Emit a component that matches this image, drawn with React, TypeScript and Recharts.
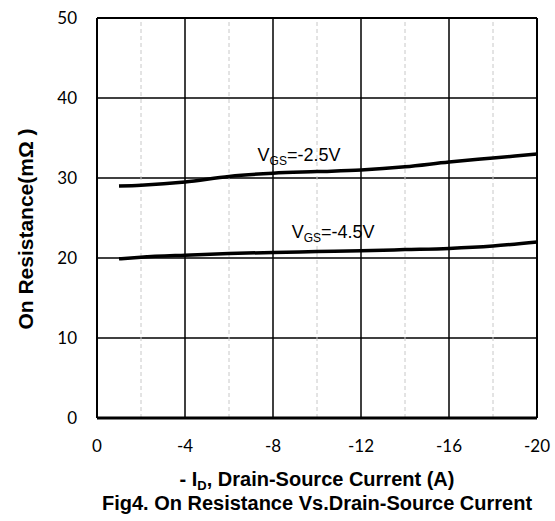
import {
  LineChart,
  Line,
  XAxis,
  YAxis,
  CartesianGrid,
  ReferenceLine,
  ReferenceDot,
} from 'recharts';

// -ID (A) and RDS(on) (mΩ)
const currentA = [-1, -2, -4, -6, -8, -10, -12, -14, -16, -18, -20];
const rdsVgs25 = [29.0, 29.1, 29.5, 30.2, 30.6, 30.8, 31.0, 31.4, 32.0, 32.5, 33.0];
const rdsVgs45 = [19.9, 20.1, 20.35, 20.55, 20.7, 20.8, 20.9, 21.05, 21.2, 21.5, 22.0];

const xTicks = [0, -4, -8, -12, -16, -20];
const xMinorTicks = [-2, -6, -10, -14, -18];
const yTicks = [0, 10, 20, 30, 40, 50];

const data25 = currentA.map((x, i) => ({ x, r: rdsVgs25[i] }));
const data45 = currentA.map((x, i) => ({ x, r: rdsVgs45[i] }));

const tickFont = { fill: '#000', fontSize: 17, fontFamily: 'Lato, sans-serif' };
const titleFont = 'Liberation Sans, Arial, sans-serif';

function CurveLabel({ viewBox, vgs }: any) {
  const { x, y } = viewBox;
  return (
    <text x={x + 1} y={y + 1} fontFamily={titleFont} fontSize={18} fill="#000">
      V
      <tspan fontSize={12} dy={4}>GS</tspan>
      <tspan dy={-4}>{`=${vgs}V`}</tspan>
    </text>
  );
}

function XTitles({ viewBox }: any) {
  const cx = viewBox.x + viewBox.width / 2;
  return (
    <g fontFamily={titleFont} fontWeight="bold" fill="#000" textAnchor="middle">
      <text x={cx} y={486} fontSize={20}>
        - I<tspan fontSize={13} dy={4}>D</tspan>
        <tspan dy={-4}>, Drain-Source Current (A)</tspan>
      </text>
      <text x={cx} y={510} fontSize={20}>
        Fig4. On Resistance Vs.Drain-Source Current
      </text>
    </g>
  );
}

function YTitle() {
  return (
    <text
      x={25}
      y={229}
      transform="rotate(-90 25 229)"
      textAnchor="middle"
      dominantBaseline="central"
      fontFamily={titleFont}
      fontWeight="bold"
      fontSize={21}
      fill="#000"
    >
      On Resistance(mΩ )
    </text>
  );
}

export default function App() {
  return (
    <div style={{ position: 'absolute', left: 0, top: 0, width: 555, height: 521, background: '#fff' }}>
      <LineChart width={555} height={521} margin={{ top: 18, right: 18, left: 37, bottom: 63 }}>
        <CartesianGrid stroke="#000" strokeWidth={1.5} />
        {xMinorTicks.map((t) => (
          <ReferenceLine key={t} x={t} stroke="#c8c8c8" strokeDasharray="4 3" strokeWidth={1} />
        ))}
        <XAxis
          dataKey="x"
          type="number"
          domain={[-20, 0]}
          reversed
          ticks={xTicks}
          interval={0}
          tick={tickFont}
          tickLine={false}
          tickSize={0}
          tickMargin={22}
          height={40}
          axisLine={{ stroke: '#000', strokeWidth: 3 }}
          label={{ content: (p: any) => <XTitles {...p} /> }}
        />
        <YAxis
          type="number"
          domain={[0, 50]}
          ticks={yTicks}
          interval={0}
          tick={tickFont}
          tickLine={false}
          tickSize={0}
          tickMargin={20}
          width={60}
          axisLine={{ stroke: '#000', strokeWidth: 2 }}
          label={{ content: () => <YTitle /> }}
        />
        <ReferenceLine y={50} stroke="#000" strokeWidth={2} />
        <ReferenceLine x={-20} stroke="#000" strokeWidth={2} />
        <Line
          data={data25}
          dataKey="r"
          type="monotone"
          stroke="#000"
          strokeWidth={3.5}
          dot={false}
          isAnimationActive={false}
        />
        <Line
          data={data45}
          dataKey="r"
          type="monotone"
          stroke="#000"
          strokeWidth={3.5}
          dot={false}
          isAnimationActive={false}
        />
        <ReferenceDot
          x={-7.3}
          y={32.1}
          r={1}
          fill="none"
          stroke="none"
          label={{ content: (p: any) => <CurveLabel {...p} vgs="-2.5" /> }}
        />
        <ReferenceDot
          x={-8.85}
          y={22.5}
          r={1}
          fill="none"
          stroke="none"
          label={{ content: (p: any) => <CurveLabel {...p} vgs="-4.5" /> }}
        />
      </LineChart>
    </div>
  );
}
